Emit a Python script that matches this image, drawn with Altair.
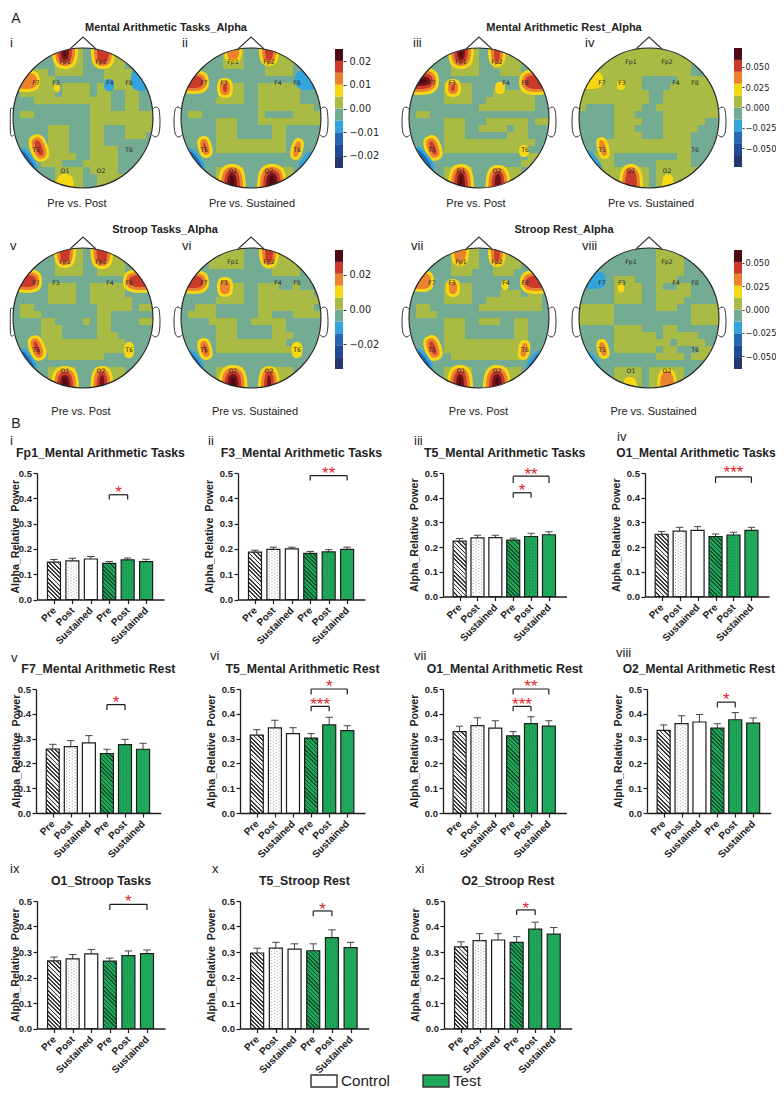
import altair as alt
import pandas as pd

# ------------------------------------------------------------------ palette
TEAL, OLIVE = "#74ab93", "#a9ba45"
WARM = ["#f6d713", "#ea8230", "#c93a2b", "#74141a", "#4d0a12"]
COOL = ["#33a3dc", "#2568b6", "#1f4a9a"]
BAR_LEVELS = ["#25366f", "#1f4a9a", "#2568b6", "#33a3dc", TEAL, OLIVE, WARM[0], WARM[1], WARM[2], WARM[4]]
GREEN, DARK = "#20a85a", "#1c1c1c"
SANS = "Liberation Sans"

# ------------------------------------------------------------------ topomap data
ELECTRODES = [("Fp1", 52, 14), ("Fp2", 88, 14), ("F7", 23, 35), ("F3", 43, 35), ("F4", 97, 35),
              ("F8", 116, 35), ("T5", 23, 102), ("T6", 116, 102), ("O1", 52, 123), ("O2", 88, 123)]

GRID_i = ["......oooo..oooo....", "......oooo..oooo....", "......oooo..oooo....", "...oo.oooo...oooo...",
          "..oooo.......ooooo..", ".ooooo.oooo.oooooo..", ".ooooo.oooo.oo..oo..", "...ooooooooooo..oo..",
          "...........ooo..oo..", ".oo........ooooooooo", "...........ooooooooo", ".....ooo...oo...oooo",
          ".....ooo...oo...ooo.", ".....ooo...oo.......", ".....ooo...oooo.....", ".....oooo..oooo.....",
          "....ooo...ooooo.....", "......oooo.oooo.....", "......oooo..oooo....", "......oooo..oooo...."]
GRID_ii = ["......ooo...oooo....", "......ooo...oooo....", "......ooo...oooo....", "............oooo....",
           "..................o.", "......ooo..oooooo...", "......ooo..oooooo...", ".....oooo..oooooo...",
           "...........oooooooo.", ".oo........o....oooo", ".....ooo...ooooooooo", ".....ooo.....oo.....",
           ".....ooo.....oo.....", ".....oooooooooo.....", ".....oooooooooo.....", "....................",
           "....................", ".....oooo...oooo....", ".....oooo...oooo....", ".....oooo...oooo...."]
GRID_iii = ["......oooo..oooo....", "......oooo..oooo....", "......oooo..oooo....", "......oooo...ooo....",
            "....................", ".....oooo...........", ".....oooo...oooooo..", ".....oooo..ooooooo..",
            "..........oooooooo..", ".oo.................", ".....ooo...oooooo.oo.", ".....ooo..oooo.oo...",
            ".....ooo......ooo...", ".....ooooooooooooo..", ".....ooooooooooo....", ".................oo.",
            "................oo..", ".....oooo...oooo....", ".....oooo...oooo....", ".....oooo...oooo...."]
GRID_iv = ["oooooooooooooooooooo", "oooooooooooooooooooo", "oooooooooooooooo.ooo", "oooooooooooooooo..oo",
           "ooooooooo.....oooooo", "ooooooooo....ooooooo", "oooooooooo..oooooooo", "oooooooooo..oooooooo",
           "o....oooo..ooooooooo", ".....ooo....oooooooo", ".....oooo...oooooo..", ".....ooo....ooooo...",
           ".....oooo...oooo....", "....oooooooooooo....", "....oooooooooooo....", "ooooo.........oo....",
           "ooooo......ooooo....", "oooooooooo.ooooooooo", "oooooooooo.ooooooooo", "oooooooooo.ooooooooo"]
GRID_v = ["......oooo..oooo....", "......oooo..oooo....", "......oooo..oooo....", "......oooo..oooo....",
          "....................", ".....oooo..oooooo...", ".....oooo..ooooo....", ".....oooo..oooooo...",
          ".oo.........ooooo.oo", ".ooo........oo......", "....oo....o.oo....oo", "....ooo.....oo......",
          "....ooo.....ooo.....", "....oooooooooooo....", "....oooooooooooo....", ".....oooooooo.......",
          "....................", ".....oooo...oooo....", ".....oooo...oooo....", ".....oooo...oooo...."]
GRID_vi = ["....ooooo...ooooo...", "....ooooo...ooooo...", "....ooooo...ooooo...", ".............oooo...",
           "....................", "......ooo..ooo..o...", "......ooo..oooooooo.", ".....oooo..ooooooooo",
           "..ooo......oooooooo.", ".oooo......oo...oooo", "....oooo..ooooo.....", ".....ooo.....oo.....",
           ".....ooo.....ooo....", ".....oooooooooo.....", ".....ooooooooooo....", "....................",
           "....................", ".....oooo...oooo....", ".....oooo...oooo....", ".....oooo...oooo...."]
GRID_vii = ["......oooo..oooo....", "......oooo..oooo....", "......oooo..oooo....", "......ooo...ooo.....",
            "....................", ".....oooo...........", ".....oooo....ooo.oo.", ".....oooo..oooooooo.",
            ".oo.......ooooooooo.", ".ooo................", ".....ooo..ooo..oo...", ".....ooo.......oo...",
            ".....ooo.......oo...", ".....oooooooooooo...", ".....oooooooooooo...", "......oooooooooo....",
            "....................", ".....oooo...oooo....", ".....oooo...oooo....", ".....oooo...oooo...."]
GRID_viii = ["...........oooo.....", "...........oooo.....", "...........oooo.....", "...........oooo.....",
             ".....ooo...ooo......", ".....oooo..o..oo....", ".....oooo..ooooo....", ".....oooo..oooo.....",
             "ooooo......ooo..oooo", "ooooo...........oooo", "ooooo...........oooo", ".....oooo...oo......",
             ".....oooooo.ooooo...", ".....oooooooo.oooo..", ".....oooooo.oo...oo.", "...........oooo.oooo",
             "....................", ".....oooo.ooooo.....", ".....oooo.ooooo.....", ".....oooo.ooooo....."]

# hot spots: centre x, centre y, radius x, radius y, tilt, signed number of nested contour levels
SPOTS_i = [(52, 2, 13, 19, 0, 5), (90, 3, 12, 18, 0, 3), (13, 33, 14, 11, 0, 2), (44, 40, 3, 4, 0, 1),
           (128, 31, 10, 12, 0, -1), (96, 37, 5, 6, 0, -1), (26, 100, 9, 14, 340, 4), (14, 112, 6, 14, 323, -2),
           (52, 140, 9, 14, 0, 1)]
SPOTS_ii = [(52, 2, 9, 13, 0, 2), (88, 2, 10, 16, 0, 3), (12, 34, 16, 12, 0, 3), (44, 40, 8, 10, 0, 3),
            (127, 32, 13, 10, 0, -1), (24, 99, 7, 11, 345, 4), (14, 112, 6, 13, 323, -2), (116, 101, 6, 11, 15, 2),
            (125, 112, 4, 10, 37, -1), (51, 140, 14, 24, 0, 5), (91, 140, 15, 24, 0, 5)]
SPOTS_iii = [(52, 2, 13, 19, 0, 5), (88, 2, 9, 17, 0, 3), (10, 33, 20, 14, 0, 5), (44, 40, 8, 9, 0, 3),
             (91, 40, 5, 6, 0, 1), (128, 34, 18, 13, 0, 3), (24, 100, 8.5, 13, 340, 5), (14, 112, 7, 15, 323, -2),
             (115, 103, 5, 6, 0, 1), (52, 140, 13, 24, 0, 5), (89, 140, 12.5, 23, 0, 5)]
SPOTS_iv = [(12, 32, 12, 9, 0, 1), (42, 37, 4, 5, 0, 1), (24, 100, 6, 11, 345, 2), (14, 113, 5, 12, 323, -1),
            (52, 140, 12, 24, 0, 3), (89, 140, 6, 14, 0, 1)]
SPOTS_v = [(52, 2, 11, 18, 0, 3), (89, 2, 11.5, 19, 0, 3), (14, 33, 15, 12, 0, 3), (128, 33, 18, 12, 0, 3),
           (24, 100, 8, 13, 340, 5), (14, 112, 6, 13, 323, -2), (116, 102, 5, 8, 0, 1),
           (52, 140, 14, 22, 0, 5), (89, 140, 11.5, 22, 0, 4)]
SPOTS_vi = [(88, 2, 10, 18, 0, 3), (12, 34, 16, 12, 0, 3), (44, 39, 8, 10, 0, 2), (24, 101, 7, 11, 345, 3),
            (14, 112, 5, 12, 323, -2), (116, 102, 5.5, 8, 0, 1), (52, 140, 14.5, 23, 0, 5), (88, 140, 11, 22, 0, 4)]
SPOTS_vii = [(51, 2, 9, 16, 0, 2), (88, 2, 9, 17, 0, 3), (12, 33, 13, 11, 0, 2), (44, 40, 7, 9, 0, 2),
             (96, 37, 3.5, 5, 0, 1), (127, 34, 16, 12, 0, 3), (24, 100, 8.5, 13, 340, 5), (14, 112, 6, 13, 323, -2),
             (115, 102, 6, 10, 10, 2), (125, 112, 4, 11, 37, -2), (51, 140, 13, 23, 0, 5), (88, 140, 14, 23, 0, 5)]
SPOTS_viii = [(14, 32, 13, 9, 0, -1), (42, 40, 3.5, 4.5, 0, 1), (24, 101, 6, 10, 345, 2), (14, 113, 4, 11, 323, -1),
              (51, 140, 7, 11, 0, 1), (88, 140, 10, 20, 0, 2)]

# ------------------------------------------------------------------ bar data
CATS = ["Pre", "Post", "Sustained", "Pre", "Post", "Sustained"]
V_i = [.148, .153, .160, .143, .157, .150];     T_i = [.158, .163, .170, .150, .164, .159]
V_ii = [.187, .198, .200, .182, .188, .198];    T_ii = [.195, .207, .207, .190, .197, .207]
V_iii = [.224, .237, .238, .228, .243, .250];   T_iii = [.235, .248, .248, .236, .256, .262]
V_iv = [.252, .265, .268, .243, .249, .268];    T_iv = [.263, .280, .283, .253, .260, .280]
V_v = [.258, .268, .283, .240, .276, .257];     T_v = [.277, .292, .312, .257, .297, .281]
V_vi = [.314, .343, .320, .302, .355, .332];    T_vi = [.336, .374, .344, .320, .386, .352]
V_vii = [.328, .352, .342, .311, .360, .350];   T_vii = [.350, .384, .372, .328, .388, .372]
V_viii = [.333, .360, .367, .342, .376, .362];  T_viii = [.355, .392, .397, .360, .405, .383]
V_ix = [.265, .273, .293, .264, .286, .294];    T_ix = [.280, .290, .310, .276, .304, .308]
V_x = [.296, .315, .311, .305, .356, .317];     T_x = [.315, .338, .332, .332, .387, .338]
V_xi = [.320, .345, .347, .338, .390, .370];    T_xi = [.340, .372, .372, .360, .417, .396]
# from, to, bracket height, tick end, star height, stars
B_i = [(3, 4, .414, .395, .435, "*")]
B_ii = [(3, 5, .490, .470, .510, "**")]
B_iii = [(3, 5, .487, .460, .510, "**"), (3, 4, .420, .400, .444, "*")]
B_iv = [(3, 5, .484, .460, .516, "***")]
B_v = [(3, 4, .437, .415, .461, "*")]
B_vi = [(3, 5, .500, .478, .524, "*"), (3, 4, .430, .410, .453, "***")]
B_vii = [(3, 5, .500, .478, .524, "**"), (3, 4, .430, .410, .453, "***")]
B_viii = [(3, 4, .447, .425, .470, "*")]
B_ix = [(3, 5, .487, .465, .513, "*")]
B_x = [(3, 4, .461, .440, .482, "*")]
B_xi = [(3, 4, .465, .445, .486, "*")]


# ------------------------------------------------------------------ helpers
def spacer(w=1, h=1):
    return alt.Chart(pd.DataFrame({"a": [0]})).mark_point(opacity=0, size=0.1, strokeWidth=0).encode(
        x=alt.value(0.5), y=alt.value(0.5)).properties(width=w, height=h)


def hrow(*items):
    parts = [spacer(w=i) if isinstance(i, (int, float)) else i for i in items]
    return alt.hconcat(*parts).properties(spacing=0, bounds="flush")


def blob_path(a, b, k=0.72):
    ax, bx = a * k, b * k
    return (f"M{a},0 C{a},{bx} {ax},{b} 0,{b} C{-ax},{b} {-a},{bx} {-a},0 "
            f"C{-a},{-bx} {-ax},{-b} 0,{-b} C{ax},{-b} {a},{-bx} {a},0 Z")


def spot_rows(spots, d=3.0):
    out = []
    for cx, cy, rx, ry, tilt, lev in spots:
        pal = WARM if lev > 0 else COOL
        for k in range(abs(lev)):
            a, b = rx - k * d, ry - k * d
            if min(a, b) <= 0.6:
                break
            m = max(a, b)
            out.append(dict(x=cx, y=cy, c=pal[k], a=tilt, s=(2 * m) ** 2,
                            p=blob_path(round(a / m, 3), round(b / m, 3))))
    return out


def grid_rows(grid, cell=7):
    out = []
    for r, row in enumerate(grid):
        row = row.ljust(20, ".")[:20]
        c = 0
        while c < 20:
            if row[c] == "o":
                e = c
                while e < 20 and row[e] == "o":
                    e += 1
                out.append(dict(x=c * cell, x2=e * cell, y=r * cell, y2=(r + 1) * cell))
                c = e
            else:
                c += 1
    return out


HX = alt.Scale(domain=[0, 140], nice=False, zero=False)
HY = alt.Scale(domain=[140, 0], nice=False, zero=False)


def hx(f="x"):
    return alt.X(f"{f}:Q", scale=HX, axis=None)


def hy(f="y"):
    return alt.Y(f"{f}:Q", scale=HY, axis=None)


R_IN = round(70 / 87, 4)


def mask_path(left=1.0, bottom=1.2):
    return (f"M{-left},-1 L1,-1 L1,{bottom} L{-left},{bottom} Z M{R_IN},0 A{R_IN},{R_IN} 0 1,0 {-R_IN},0 "
            f"A{R_IN},{R_IN} 0 1,0 {R_IN},0 Z")


NOSE = [(57, 1), (70, -11), (83, 1)]
EAR = [(1, 62), (-3, 59), (-6, 62), (-7, 74), (-6, 85), (-3, 89), (1, 87)]
EAR_TIGHT = [(1, 62), (-1.5, 60), (-2.6, 63), (-2.6, 84), (-1.5, 88), (1, 87)]


def head(grid, spots, caption, cap_x, cap_y, numeral, num_x, num_y, extra=(), left=1.0, tight=False):
    ctr = pd.DataFrame({"x": [70], "y": [70]})
    layers = [
        alt.Chart(pd.DataFrame({"x": [0], "x2": [140], "y": [0], "y2": [140]})).mark_rect(fill=TEAL, strokeWidth=0)
        .encode(x=hx(), x2="x2:Q", y=hy(), y2="y2:Q"),
        alt.Chart(pd.DataFrame(grid_rows(grid))).mark_rect(fill=OLIVE, strokeWidth=0)
        .encode(x=hx(), x2="x2:Q", y=hy(), y2="y2:Q"),
        alt.Chart(pd.DataFrame(spot_rows(spots))).mark_point(filled=True, opacity=1, strokeWidth=0).encode(
            x=hx(), y=hy(), fill=alt.Fill("c:N", scale=None), shape=alt.Shape("p:N", scale=None),
            size=alt.Size("s:Q", scale=None), angle=alt.Angle("a:Q", scale=None)),
        alt.Chart(ctr).mark_point(shape=mask_path(left), size=(2 * 87) ** 2, filled=True, fill="white", opacity=1,
                                  strokeWidth=0).encode(x=hx(), y=hy()),
        alt.Chart(ctr).mark_point(shape="circle", size=140 ** 2, filled=False, stroke="#222222", strokeWidth=1.1, opacity=1)
        .encode(x=hx(), y=hy()),
        alt.Chart(pd.DataFrame([dict(x=x, y=y, o=i) for i, (x, y) in enumerate(NOSE)]))
        .mark_line(stroke="#333333", strokeWidth=1.1).encode(x=hx(), y=hy(), order="o:Q"),
    ]
    for side in (0, 1):
        src = EAR_TIGHT if (tight and side == 0) else EAR
        pts = [dict(x=(140 - x if side else x), y=y, o=i) for i, (x, y) in enumerate(src)]
        layers.append(alt.Chart(pd.DataFrame(pts)).mark_line(stroke="#333333", strokeWidth=1, interpolate="cardinal")
                      .encode(x=hx(), y=hy(), order="o:Q"))
    layers.append(alt.Chart(pd.DataFrame([dict(t=t, x=x, y=y) for t, x, y in ELECTRODES]))
                  .mark_text(font="DejaVu Sans", fontSize=6.2, color="#2a2a2a", baseline="middle")
                  .encode(x=hx(), y=hy(), text="t:N"))
    layers.append(alt.Chart(pd.DataFrame([dict(t=caption, x=cap_x, y=cap_y)]))
                  .mark_text(font=SANS, fontSize=11, color="#222222", baseline="middle")
                  .encode(x=hx(), y=hy(), text="t:N"))
    layers.append(alt.Chart(pd.DataFrame([dict(t=numeral, x=num_x, y=num_y)]))
                  .mark_text(font=SANS, fontSize=13, color="#222222", baseline="middle", align="left")
                  .encode(x=hx(), y=hy(), text="t:N"))
    for t, x, y, size, weight in extra:
        layers.append(alt.Chart(pd.DataFrame([dict(t=t, x=x, y=y)]))
                      .mark_text(font=SANS, fontSize=size, fontWeight=weight, color="#222222", baseline="middle")
                      .encode(x=hx(), y=hy(), text="t:N"))
    return alt.layer(*layers).properties(width=140, height=140)


def colorbar(d, ticks, fmt, off, lab=9.7, tick=3, pad=3):
    ppu = 2 * d / 119
    hi, lo = d + off * ppu, -d - (140 - off - 119) * ppu
    step = 2 * d / len(BAR_LEVELS)
    df = pd.DataFrame([dict(y=-d + k * step, y2=-d + (k + 1) * step, c=c) for k, c in enumerate(BAR_LEVELS)])
    return alt.Chart(df).mark_rect(strokeWidth=0).encode(
        y=alt.Y("y:Q", scale=alt.Scale(domain=[lo, hi], nice=False, zero=False),
                axis=alt.Axis(orient="right", values=ticks, format=fmt, title=None, grid=False, domain=False,
                              tickSize=tick, tickColor="#333333", labelPadding=pad, labelFont="DejaVu Sans",
                              labelFontSize=lab, labelColor="#222222", labelOverlap=False)),
        y2="y2:Q", fill=alt.Fill("c:N", scale=None),
        x=alt.value(0), x2=alt.value(8)).properties(width=8, height=140)


XS = alt.Scale(domain=[-0.65, 5.7], nice=False, zero=False)
YS = alt.Scale(domain=[0, 0.5], nice=False)


def hatch(value, H, light, dark, w=13.0, P=4.2, frac=0.42):
    h = value / 0.5 * H
    r = h / w
    L2 = 1 + r * r
    tmin = (r * r - r) / L2
    span = 1 - tmin
    step = P / (w * L2) / span
    stops, t = [], 0.0
    while t < 1:
        b, c = min(1, t + step * frac), min(1, t + step)
        stops += [alt.GradientStop(color=dark, offset=round(t, 5)), alt.GradientStop(color=dark, offset=round(b, 5)),
                  alt.GradientStop(color=light, offset=round(b, 5)), alt.GradientStop(color=light, offset=round(c, 5))]
        t += step
    # the gradient vector is widened so that the stripes stay at 45 degrees on a bar of any height
    return alt.LinearGradient(gradient="linear", x1=tmin, y1=r - tmin * r, x2=1, y2=0, stops=stops)


def bar_panel(title, numeral, vals, tops, brackets, W, H, ty_base, num_x, num_y, title_dx=0, title_size=12.3):
    df = pd.DataFrame({"i": list(range(6)), "v": vals, "t": tops})
    df["xa"], df["xb"] = df["i"] - 0.2, df["i"] + 0.2
    xaxis = alt.Axis(values=list(range(6)), title=None, grid=False, labelAngle=-45, labelAlign="right",
                     labelBaseline="middle", labelExpr="['Pre','Post','Sustained','Pre','Post','Sustained'][datum.value]",
                     labelFont=SANS, labelFontSize=10, labelFontWeight="bold", labelColor="#222222", labelPadding=5,
                     labelOverlap=False, labelFlush=False, labelBound=False, tickSize=4, tickWidth=1.2,
                     tickColor=DARK, domainColor=DARK, domainWidth=1.3)
    yaxis = alt.Axis(values=[0, .1, .2, .3, .4, .5], format=".1f", title="Alpha_Relative\u00a0\u00a0Power", grid=False,
                     labelFont=SANS, labelFontSize=9.5, labelFontWeight="bold", labelColor="#222222", labelPadding=1.5,
                     tickSize=4, tickWidth=1.2, tickColor=DARK, domainColor=DARK, domainWidth=1.3,
                     titleFont=SANS, titleFontSize=10.6, titleFontWeight="bold", titleColor="#222222",
                     titleX=ty_base, labelOverlap=False, labelFlush=False)

    def X(f):
        return alt.X(f"{f}:Q", scale=XS, axis=xaxis)

    def Y(f):
        return alt.Y(f"{f}:Q", scale=YS, axis=yaxis)

    layers = [
        alt.Chart(df).mark_rule(stroke="#444444", strokeWidth=1).encode(x=X("i"), y=Y("v"), y2="t:Q"),
        alt.Chart(df).mark_rule(stroke="#444444", strokeWidth=1).encode(x=X("xa"), x2="xb:Q", y=Y("t")),
    ]
    fills = [hatch(vals[0], H, "#f2f2f2", "#3a3a3a"), "white", "white",
             hatch(vals[3], H, GREEN, "#0f4f2c"), GREEN, GREEN]
    for k in range(6):
        one = df.iloc[[k]]
        layers.append(alt.Chart(one).mark_bar(size=13, orient="vertical", fill=fills[k], stroke=DARK, strokeWidth=1.2)
                      .encode(x=X("i"), y=Y("v")))
        if k in (1, 4):
            col = "#9a9a9a" if k == 1 else "#148043"
            for n, dx in enumerate([-4.2, -1.4, 1.4, 4.2]):
                layers.append(alt.Chart(one).mark_rule(stroke=col, strokeWidth=1, strokeDash=[1, 2],
                                                       strokeDashOffset=1.5 * (n % 2), xOffset=dx)
                              .encode(x=X("i"), y=Y("v"), y2=alt.Y2(datum=0.004)))
    for a, b, yb, ye, ys, stars in brackets:
        br = pd.DataFrame({"a": [a], "b": [b], "yb": [yb], "ye": [ye], "ys": [ys], "m": [(a + b) / 2], "t": [stars]})
        layers += [
            alt.Chart(br).mark_rule(stroke=DARK, strokeWidth=1.2).encode(x=X("a"), x2="b:Q", y=Y("yb")),
            alt.Chart(br).mark_rule(stroke=DARK, strokeWidth=1.2).encode(x=X("a"), y=Y("yb"), y2="ye:Q"),
            alt.Chart(br).mark_rule(stroke=DARK, strokeWidth=1.2).encode(x=X("b"), y=Y("yb"), y2="ye:Q"),
            alt.Chart(br).mark_text(font=SANS, fontSize=17, color="#e2242c", baseline="middle", dy=4).encode(
                x=X("m"), y=Y("ys"), text="t:N"),
        ]
    layers.append(alt.Chart(pd.DataFrame({"t": [numeral]})).mark_text(
        font=SANS, fontSize=13, color="#222222", align="left", baseline="middle").encode(
        x=alt.value(num_x), y=alt.value(num_y), text="t:N"))
    layers.append(alt.Chart(pd.DataFrame({"t": [title]})).mark_text(
        font=SANS, fontSize=title_size, fontWeight="bold", color="#222222", baseline="middle").encode(
        x=alt.value(W / 2 + title_dx), y=alt.value(-20), text="t:N"))
    return alt.layer(*layers).properties(width=W, height=H)


# ------------------------------------------------------------------ top block
r1 = hrow(4,
          head(GRID_i, SPOTS_i, "Pre vs. Post", 64, 156, "i", -3, -5,
               extra=[("A", 3, -29, 14, "normal")], left=74 / 87, tight=True),
          28,
          head(GRID_ii, SPOTS_ii, "Pre vs. Sustained", 71, 156, "ii", 1, -5,
               extra=[("Mental Arithmetic Tasks_Alpha", -15, -20, 11, "bold")]),
          14,
          colorbar(0.0251, [-.02, -.01, 0, .01, .02], ".2f", 1),
          66,
          head(GRID_iii, SPOTS_iii, "Pre vs. Post", 67, 156, "iii", 4, -5),
          30,
          head(GRID_iv, SPOTS_iv, "Pre vs. Sustained", 72, 156, "iv", 6, -5,
               extra=[("Mental Arithmetic Rest_Alpha", -15, -20, 11, "bold")]),
          15,
          colorbar(0.0728, [-.05, -.025, 0, .025, .05], ".3f", 0, lab=8.4, tick=2, pad=1))
r2 = hrow(4,
          head(GRID_v, SPOTS_v, "Pre vs. Post", 68, 164, "v", -3, -2,
               extra=[("B", 3, 176, 14, "normal")], left=74 / 87, tight=True),
          28,
          head(GRID_vi, SPOTS_vi, "Pre vs. Sustained", 74, 164, "vi", 1, -2,
               extra=[("Stroop Tasks_Alpha", -16, -18, 11, "bold")]),
          14,
          colorbar(0.0343, [-.02, 0, .02], ".2f", 2),
          66,
          head(GRID_vii, SPOTS_vii, "Pre vs. Post", 69.5, 164, "vii", 2, -2),
          30,
          head(GRID_viii, SPOTS_viii, "Pre vs. Sustained", 74.5, 164, "viii", 3, -2,
               extra=[("Stroop Rest_Alpha", -15, -18, 11, "bold")]),
          15,
          colorbar(0.0634, [-.05, -.025, 0, .025, .05], ".3f", 2, lab=8.4, tick=2, pad=1))

# ------------------------------------------------------------------ bar rows
r3 = hrow(28,
          bar_panel("Fp1_Mental Arithmetic Tasks", "i", V_i, T_i, B_i, 127, 126.5, -16.5, -27, -32),
          73.7,
          bar_panel("F3_Mental Arithmetic Tasks", "ii", V_ii, T_ii, B_ii, 127, 126.5, -24, -30, -32),
          78,
          bar_panel("T5_Mental Arithmetic Tasks", "iii", V_iii, T_iii, B_iii, 123.5, 123.5, -24, -29, -32),
          77.8,
          bar_panel("O1_Mental Arithmetic Tasks", "iv", V_iv, T_iv, B_iv, 124, 123.5, -24, -28, -36,
                    title_dx=-11, title_size=12))
r4 = hrow(26.3,
          bar_panel("F7_Mental Arithmetic Rest", "v", V_v, T_v, B_v, 124.7, 124, -15, -25, -31),
          79,
          bar_panel("T5_Mental Arithmetic Rest", "vi", V_vi, T_vi, B_vi, 125, 124, -24, -30, -33),
          77.7,
          bar_panel("O1_Mental Arithmetic Rest", "vii", V_vii, T_vii, B_vii, 123.3, 124, -24, -29, -33),
          80,
          bar_panel("O2_Mental Arithmetic Rest", "viii", V_viii, T_viii, B_viii, 123.7, 124, -24, -31, -36,
                    title_dx=-10, title_size=12))
r5 = hrow(28,
          bar_panel("O1_Stroop Tasks", "ix", V_ix, T_ix, B_ix, 128, 127.5, -16.5, -27, -32),
          75,
          bar_panel("T5_Stroop Rest", "x", V_x, T_x, B_x, 128.7, 127.5, -24, -28, -32),
          74.6,
          bar_panel("O2_Stroop Rest", "xi", V_xi, T_xi, B_xi, 127.7, 127.5, -24, -29, -32))

# ------------------------------------------------------------------ legend
LEG_NAMES = ["Control", "Test"]
LEG_X = [302, 414]
LEG_FILL = ["white", GREEN]
lx = alt.Scale(domain=[0, 700], nice=False, zero=False)
ly = alt.Scale(domain=[12, 0], nice=False, zero=False)
leg_df = pd.DataFrame({"x": LEG_X, "x2": [v + 26 for v in LEG_X], "tx": [v + 30 for v in LEG_X],
                       "y": [0, 0], "y2": [12, 12], "ym": [6, 6], "n": LEG_NAMES, "f": LEG_FILL})
legend = alt.layer(
    alt.Chart(leg_df).mark_rect(stroke="#333333", strokeWidth=1.4).encode(
        x=alt.X("x:Q", scale=lx, axis=None), x2="x2:Q", y=alt.Y("y:Q", scale=ly, axis=None), y2="y2:Q",
        fill=alt.Fill("f:N", scale=None)),
    alt.Chart(leg_df).mark_text(font=SANS, fontSize=15.2, color="#222222", align="left", baseline="middle").encode(
        x=alt.X("tx:Q", scale=lx, axis=None), y=alt.Y("ym:Q", scale=ly, axis=None), text="n:N"),
).properties(width=700, height=12)

legrow = hrow(legend)

chart = alt.vconcat(spacer(h=40), r1, spacer(h=200), r2, spacer(h=224.5), r3, spacer(h=215.2), r4,
                    spacer(h=211.3), r5, spacer(h=174), legrow)
chart = chart.properties(spacing=0, bounds="flush",
                         padding={"left": 0, "right": 0, "top": 0, "bottom": 0}).configure_view(stroke=None)

chart.save("out.html", embed_options={"renderer": "svg", "actions": False})
